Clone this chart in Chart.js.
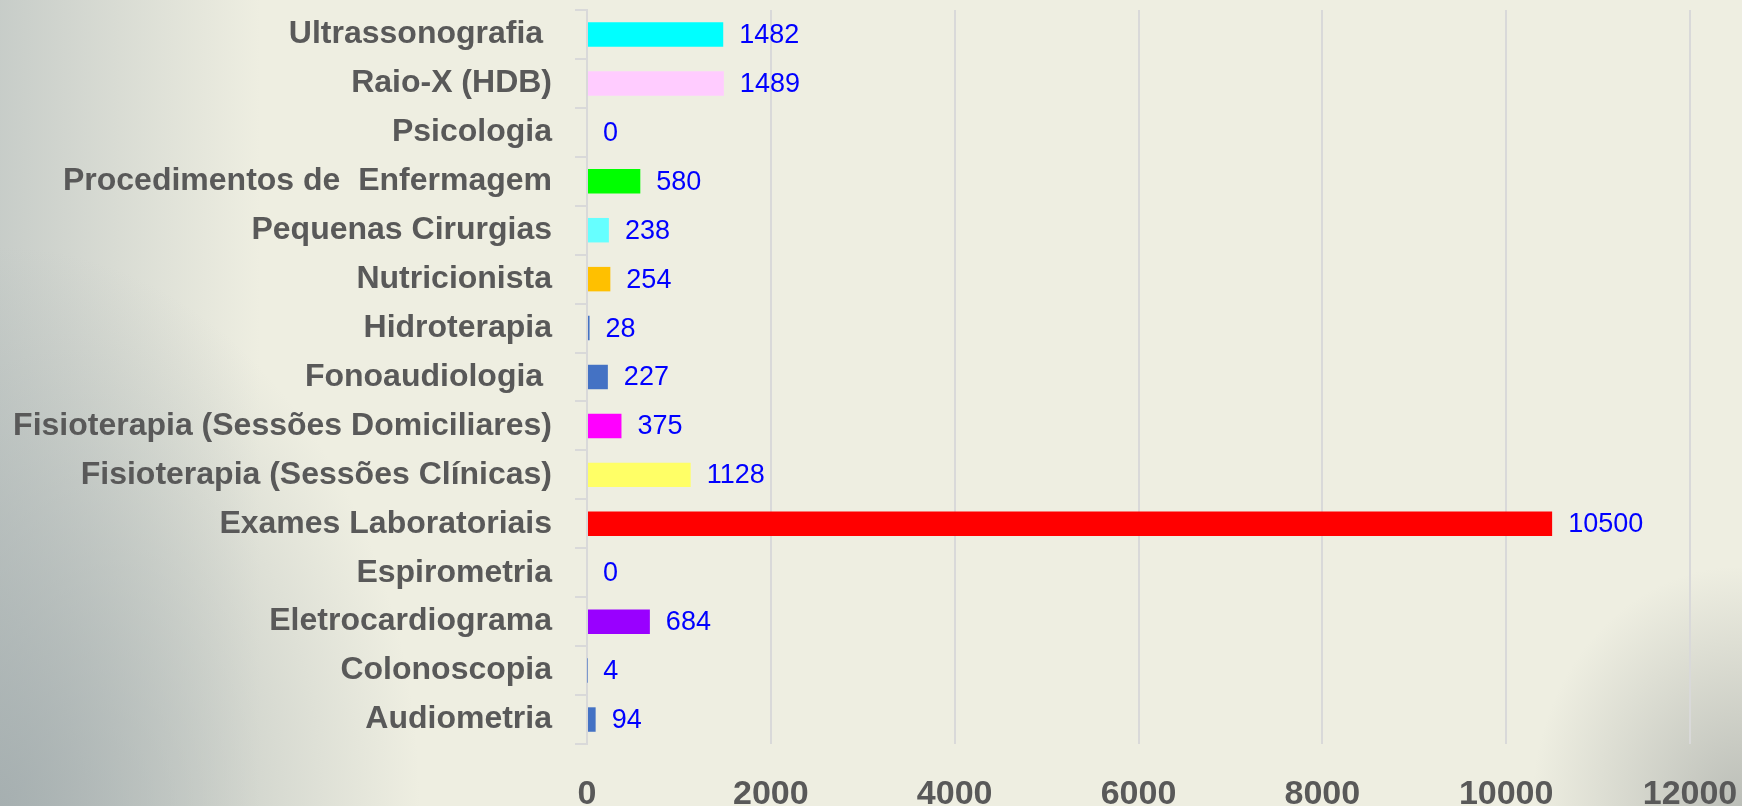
<!DOCTYPE html>
<html>
<head>
<meta charset="utf-8">
<script src="https://cdn.jsdelivr.net/npm/chart.js@4.4.1/dist/chart.umd.min.js"></script>
<style>
  html, body { margin: 0; padding: 0; }
  body {
    width: 1742px;
    height: 806px;
    overflow: hidden;
    background:
      radial-gradient(ellipse 420px 560px at 0 100%, rgba(160,170,172,0.85), rgba(160,170,172,0) 100%),
      linear-gradient(90deg, rgba(195,201,198,0.9) 0, rgba(238,238,225,0) 260px),
      radial-gradient(ellipse 210px 240px at 100% 100%, rgba(185,188,182,0.95), rgba(185,188,182,0) 100%),
      #eeeee1;
  }
  #wrap { position: relative; width: 1742px; height: 806px; }
</style>
</head>
<body>
<div id="wrap"><canvas id="chartAtend"></canvas></div>
<script>
// atendimentos por tipo — barras horizontais

const CATEGORIAS = [
  "Ultrassonografia ",
  "Raio-X (HDB)",
  "Psicologia",
  "Procedimentos de  Enfermagem",
  "Pequenas Cirurgias",
  "Nutricionista",
  "Hidroterapia",
  "Fonoaudiologia ",
  "Fisioterapia (Sessões Domiciliares)",
  "Fisioterapia (Sessões Clínicas)",
  "Exames Laboratoriais",
  "Espirometria",
  "Eletrocardiograma",
  "Colonoscopia",
  "Audiometria",
];

const VALORES = [1482, 1489, 0, 580, 238, 254, 28, 227, 375, 1128, 10500, 0, 684, 4, 94];

const CORES = [
  "#00ffff",
  "#ffccff",
  "#4472c4",
  "#00ff00",
  "#66ffff",
  "#ffc000",
  "#4472c4",
  "#4472c4",
  "#ff00ff",
  "#ffff66",
  "#ff0000",
  "#4472c4",
  "#9900ff",
  "#4472c4",
  "#4472c4",
];

const X_MAX = 12000;
const X_STEP = 2000;

Chart.defaults.font.family = "'Liberation Sans', Arial, sans-serif";

const GRID_COLOR = "#d9d9d9";

// rótulos azuis no fim de cada barra
const valueLabels = {
  id: "valueLabels",
  afterDatasetsDraw(chart) {
    const { ctx } = chart;
    const meta = chart.getDatasetMeta(0);
    ctx.save();
    ctx.font = "27px 'Liberation Sans', Arial, sans-serif";
    ctx.fillStyle = "#0000ff";
    ctx.textAlign = "left";
    ctx.textBaseline = "middle";
    meta.data.forEach((bar, i) => {
      ctx.fillText(String(VALORES[i]), bar.x + 16, bar.y + 1);
    });
    ctx.restore();
  },
};

new Chart(document.getElementById("chartAtend"), {
  type: "bar",
  data: {
    labels: CATEGORIAS,
    datasets: [
      {
        data: VALORES,
        backgroundColor: CORES,
        borderWidth: 0,
        barPercentage: 0.5,
        categoryPercentage: 1.0,
      },
    ],
  },
  options: {
    indexAxis: "y",
    responsive: true,
    maintainAspectRatio: false,
    animation: false,
    layout: { padding: { top: 10, right: 52, left: 0, bottom: 0 } },
    plugins: { legend: { display: false }, tooltip: { enabled: false } },
    scales: {
      x: {
        min: 0,
        max: X_MAX,
        ticks: {
          stepSize: X_STEP,
          color: "#595959",
          font: { size: 34, weight: "bold" },
          padding: 30,
          maxRotation: 0,
          callback: (v) => String(v),
        },
        grid: { color: GRID_COLOR, lineWidth: 2, drawTicks: false },
        border: { display: false },
        afterFit: (s) => {
          s.height = 62;
          s.paddingLeft = 0;
          s.paddingRight = 0;
        },
      },
      y: {
        ticks: {
          color: "#595959",
          font: { size: 32, weight: "bold" },
          padding: 23,
          autoSkip: false,
        },
        grid: {
          color: GRID_COLOR,
          lineWidth: 2,
          drawOnChartArea: false,
          drawTicks: true,
          tickLength: 12,
        },
        border: { display: true, color: GRID_COLOR, width: 2 },
        afterFit: (s) => {
          s.width = 587;
          s.paddingTop = 0;
          s.paddingBottom = 0;
        },
      },
    },
  },
  plugins: [valueLabels],
});
</script>
</body>
</html>
